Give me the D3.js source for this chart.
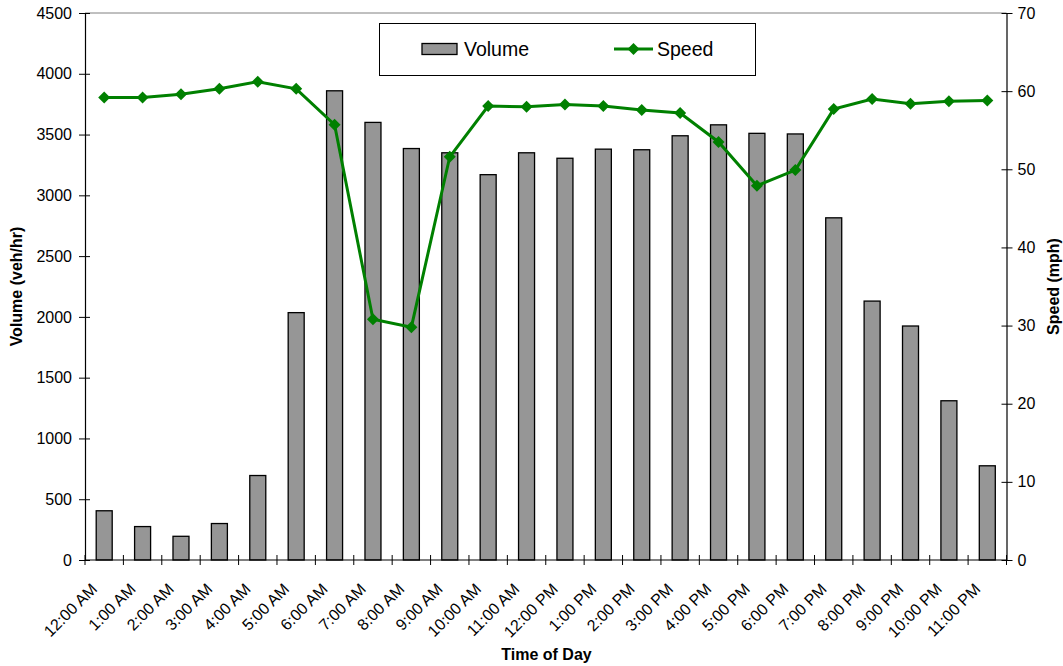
<!DOCTYPE html>
<html>
<head>
<meta charset="utf-8">
<script src="https://cdn.jsdelivr.net/npm/d3@7"></script>
<style>
  body { margin: 0; background: #fff; }
  svg { font-family: "Liberation Sans", Arial, sans-serif; }
</style>
</head>
<body>
<svg id="chart" width="1063" height="666"></svg>
<script>
// Hourly traffic volume and average speed
const hours = ["12:00 AM","1:00 AM","2:00 AM","3:00 AM","4:00 AM","5:00 AM","6:00 AM","7:00 AM",
  "8:00 AM","9:00 AM","10:00 AM","11:00 AM","12:00 PM","1:00 PM","2:00 PM","3:00 PM",
  "4:00 PM","5:00 PM","6:00 PM","7:00 PM","8:00 PM","9:00 PM","10:00 PM","11:00 PM"];
const volume = [405, 275, 195, 300, 695, 2035, 3860, 3600, 3385, 3350, 3170, 3350,
  3305, 3380, 3375, 3490, 3580, 3510, 3505, 2815, 2130, 1925, 1310, 775];
const speed = [59.2, 59.2, 59.6, 60.3, 61.2, 60.3, 55.7, 30.8, 29.8, 51.6, 58.1, 58.0,
  58.3, 58.1, 57.6, 57.2, 53.5, 47.9, 49.9, 57.7, 59.0, 58.4, 58.7, 58.8];
const volumeTicks = [0, 500, 1000, 1500, 2000, 2500, 3000, 3500, 4000, 4500];
const speedTicks = [0, 10, 20, 30, 40, 50, 60, 70];

const svg = d3.select("#chart");
const pLeft = 85, pRight = 1006.5, pTop = 13, pBottom = 560;

const x = d3.scaleBand().domain(hours).range([pLeft, pRight]).paddingInner(0).paddingOuter(0);
const yV = d3.scaleLinear().domain([0, 4500]).range([pBottom, pTop]);
const yS = d3.scaleLinear().domain([0, 70]).range([pBottom, pTop]);
const cx = h => x(h) + x.bandwidth() / 2;

// top frame line
svg.append("line").attr("x1", pLeft).attr("x2", pRight).attr("y1", pTop).attr("y2", pTop)
  .attr("stroke", "#808080").attr("stroke-width", 1);

// bars
const barW = 16;
svg.append("g").selectAll("rect").data(volume).join("rect")
  .attr("x", (d, i) => cx(hours[i]) - barW / 2)
  .attr("y", d => yV(d))
  .attr("width", barW)
  .attr("height", d => pBottom - yV(d))
  .attr("fill", "#969696")
  .attr("stroke", "#000")
  .attr("stroke-width", 1.3);

// left axis
const gL = svg.append("g").attr("transform", `translate(${pLeft},0)`)
  .call(d3.axisLeft(yV).tickValues(volumeTicks).tickSize(0).tickPadding(13).tickFormat(d3.format("d")));
gL.select(".domain").attr("stroke", "#000").attr("stroke-width", 1.2);
gL.selectAll(".tick line").attr("x1", -6).attr("x2", 5).attr("stroke", "#000");
gL.selectAll(".tick text").attr("font-size", 16).attr("fill", "#000").attr("font-family", "Liberation Sans, Arial, sans-serif");

// right axis
const gR = svg.append("g").attr("transform", `translate(${pRight},0)`)
  .call(d3.axisRight(yS).tickValues(speedTicks).tickSize(0).tickPadding(11).tickFormat(d3.format("d")));
gR.select(".domain").attr("stroke", "#000").attr("stroke-width", 1.2);
gR.selectAll(".tick line").attr("x1", -5).attr("x2", 6).attr("stroke", "#000");
gR.selectAll(".tick text").attr("font-size", 16).attr("fill", "#000").attr("font-family", "Liberation Sans, Arial, sans-serif");

// bottom axis with ticks at category boundaries
const gB = svg.append("g").attr("transform", `translate(0,${pBottom})`);
gB.append("line").attr("x1", pLeft).attr("x2", pRight).attr("stroke", "#000").attr("stroke-width", 1.2);
const boundaries = hours.map(h => x(h)).concat([pRight]);
gB.selectAll("line.tk").data(boundaries).join("line").attr("class", "tk")
  .attr("x1", d => d).attr("x2", d => d).attr("y1", -5).attr("y2", 5).attr("stroke", "#000");
gB.selectAll("text").data(hours).join("text")
  .attr("transform", d => `translate(${cx(d) - 6},${30}) rotate(-45)`)
  .attr("text-anchor", "end")
  .attr("font-size", 16)
  .attr("fill", "#000")
  .text(d => d);

// speed line
const line = d3.line().x((d, i) => cx(hours[i])).y(d => yS(d));
svg.append("path").datum(speed).attr("d", line)
  .attr("fill", "none").attr("stroke", "#008000").attr("stroke-width", 3);
const diamond = d3.symbol().type(d3.symbolSquare).size(72);
svg.append("g").selectAll("path").data(speed).join("path")
  .attr("transform", (d, i) => `translate(${cx(hours[i])},${yS(d)}) rotate(45)`)
  .attr("d", diamond)
  .attr("fill", "#008000");

// axis titles
svg.append("text").attr("transform", `translate(22,${(pTop + pBottom) / 2}) rotate(-90)`)
  .attr("text-anchor", "middle").attr("font-size", 16).attr("font-weight", "bold").text("Volume (veh/hr)");
svg.append("text").attr("transform", `translate(1059,${(pTop + pBottom) / 2}) rotate(-90)`)
  .attr("text-anchor", "middle").attr("font-size", 16).attr("font-weight", "bold").text("Speed (mph)");
svg.append("text").attr("x", 546.5).attr("y", 660)
  .attr("text-anchor", "middle").attr("font-size", 16).attr("font-weight", "bold").text("Time of Day");

// legend
const lg = svg.append("g");
lg.append("rect").attr("x", 379.5).attr("y", 23.5).attr("width", 376).attr("height", 52)
  .attr("fill", "#fff").attr("stroke", "#000").attr("stroke-width", 1);
lg.append("rect").attr("x", 422).attr("y", 43.5).attr("width", 35).attr("height", 11)
  .attr("fill", "#969696").attr("stroke", "#000").attr("stroke-width", 1.3);
lg.append("text").attr("x", 464).attr("y", 56).attr("font-size", 19.5).text("Volume");
lg.append("line").attr("x1", 614).attr("x2", 653).attr("y1", 49).attr("y2", 49)
  .attr("stroke", "#008000").attr("stroke-width", 3);
lg.append("path").attr("transform", "translate(633.5,49) rotate(45)").attr("d", diamond).attr("fill", "#008000");
lg.append("text").attr("x", 657).attr("y", 56).attr("font-size", 19.5).text("Speed");
</script>
</body>
</html>
